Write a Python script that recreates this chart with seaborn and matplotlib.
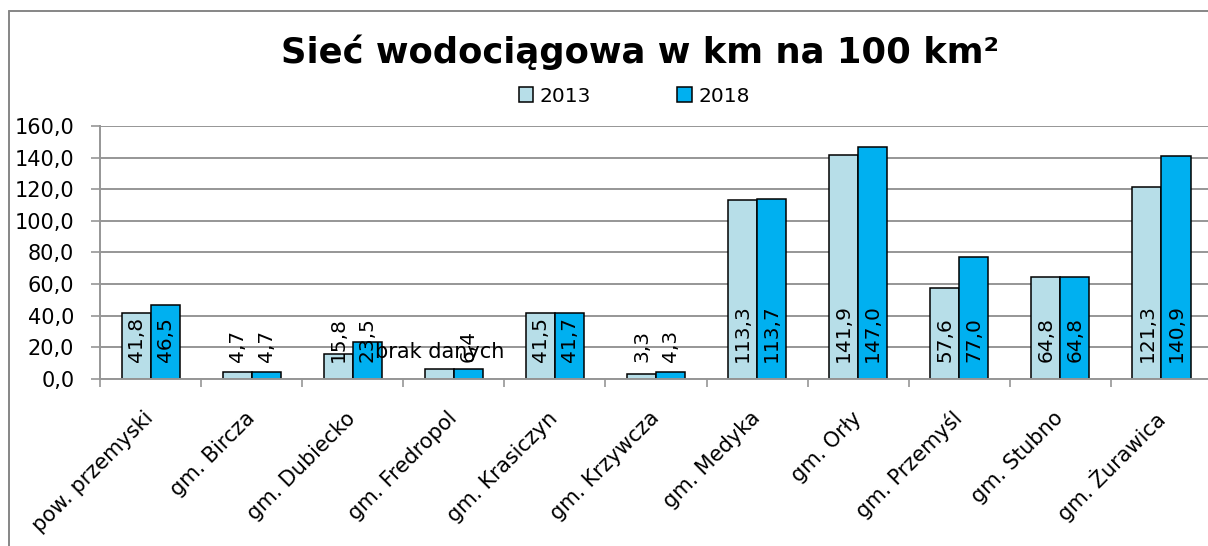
import matplotlib
matplotlib.use("Agg")
import matplotlib.pyplot as plt
import seaborn as sns
import pandas as pd
from matplotlib.patches import Patch
from matplotlib.lines import Line2D
from matplotlib.ticker import FuncFormatter, FixedLocator

sns.set_theme(style="white")
plt.rcParams['font.family'] = ['DejaVu Sans']
plt.rcParams['text.color'] = 'black'

# ------------------------------
# Data
# ------------------------------
gminy = ["pow. przemyski", "gm. Bircza", "gm. Dubiecko", "gm. Fredropol",
         "gm. Krasiczyn", "gm. Krzywcza", "gm. Medyka", "gm. Orły",
         "gm. Przemyśl", "gm. Stubno", "gm. Żurawica"]
lata = ["2013", "2018"]
v2013 = [41.8, 4.7, 15.8, 6.4, 41.5, 3.3, 113.3, 141.9, 57.6, 64.8, 121.3]
v2018 = [46.5, 4.7, 23.5, 6.4, 41.7, 4.3, 113.7, 147.0, 77.0, 64.8, 140.9]
# Fredropol 2013 has no data, the chart shows a text instead of the number
brak_2013 = [False, False, False, True, False, False, False, False, False, False, False]
kolory = ["#B7DEE8", "#00B0F0"]

df = pd.DataFrame({
    "gmina": gminy * 2,
    "rok": [lata[0]] * len(gminy) + [lata[1]] * len(gminy),
    "wartosc": v2013 + v2018,
})


def pl(v):
    return f"{v:.1f}".replace(".", ",")


fig = plt.figure(figsize=(12.08, 5.46), dpi=100)
ax = fig.add_axes([0.0828, 0.3059, 0.9205, 0.4634])

sns.barplot(data=df, x="gmina", y="wartosc", hue="rok", palette=kolory,
            width=0.575, gap=0, edgecolor="black", linewidth=1.1,
            legend=False, ax=ax, saturation=1)

ax.set_xlim(-0.5, len(gminy) - 0.5)
ax.set_ylim(0, 160)
ax.set_xlabel("")
ax.set_ylabel("")

# y axis
ax.set_yticks(range(0, 161, 20))
ax.yaxis.set_major_formatter(FuncFormatter(lambda v, p: pl(v)))
ax.yaxis.grid(True, color="#969696", linewidth=1.4)
ax.set_axisbelow(True)
ax.tick_params(axis="y", direction="out", length=6.5, width=1.2,
               color="#969696", pad=12, labelsize=15, labelcolor="black", left=True)

# x axis: labels at centres, ticks between categories
ax.set_xticks(range(len(gminy)))
ax.set_xticklabels(gminy, rotation=45, ha="right", va="center",
                   rotation_mode="anchor", fontsize=15, color="black")
ax.tick_params(axis="x", which="major", length=0, pad=26)
ax.xaxis.set_minor_locator(FixedLocator([i - 0.5 for i in range(len(gminy) + 1)]))
ax.tick_params(axis="x", which="minor", direction="out", length=6, width=1.2,
               color="#969696", bottom=True)

for side in ["top", "right"]:
    ax.spines[side].set_visible(False)
for side in ["left", "bottom"]:
    ax.spines[side].set_color("#969696")
    ax.spines[side].set_linewidth(1.4)

# value labels, anchored near the base of each bar
for ci, cont in enumerate(ax.containers):
    vals = v2013 if ci == 0 else v2018
    for i, bar in enumerate(cont):
        x = bar.get_x() + bar.get_width() / 2
        if ci == 0 and brak_2013[i]:
            ax.annotate("brak danych", (x, 0), xytext=(0, 12),
                        textcoords="offset points", ha="center", va="bottom",
                        fontsize=15, color="black")
        else:
            ax.annotate(pl(vals[i]), (x, 0), xytext=(0, 12),
                        textcoords="offset points", rotation=90,
                        ha="center", va="bottom", fontsize=14.5, color="black")

# legend
handles = [Patch(facecolor=kolory[k], edgecolor="black", linewidth=1.1, label=lata[k])
           for k in range(2)]
fig.legend(handles=handles, loc="center", bbox_to_anchor=(0.525, 0.824),
           ncol=2, frameon=False, fontsize=14.5, handlelength=0.74,
           handleheight=0.74, handletextpad=0.3, columnspacing=4.3,
           labelcolor="black")

# title
fig.text(0.53, 0.885, "Sieć wodociągowa w km na 100 km²", ha="center",
         va="baseline", fontsize=25.5, fontweight="bold", color="black")

# chart area border (only top and left edge are visible in the crop)
top = 1 - 11 / 546
left = 9 / 1208
fig.add_artist(Line2D([left, 1.0], [top, top], transform=fig.transFigure,
                      color="#868686", linewidth=1.4))
fig.add_artist(Line2D([left, left], [0.0, top], transform=fig.transFigure,
                      color="#868686", linewidth=1.4))

fig.savefig("out.png", dpi=100)
